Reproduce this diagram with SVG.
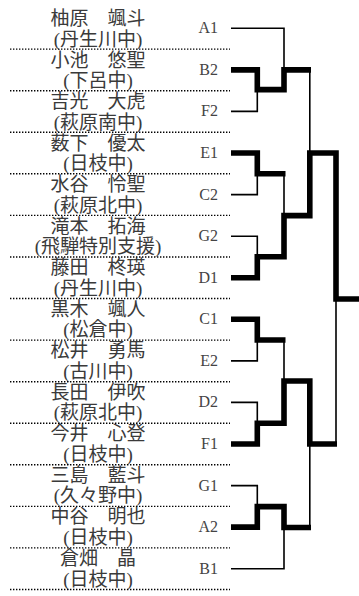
<svg xmlns="http://www.w3.org/2000/svg" width="359" height="596" viewBox="0 0 359 596">
<style>
.nm{font-family:"Liberation Serif","Noto Sans CJK JP",serif;font-size:19px;fill:#3a3a3a;text-anchor:middle}
.lb{font-family:"Liberation Serif",serif;font-size:16px;fill:#444;text-anchor:end}
.dot{stroke:#000;stroke-width:1.4;stroke-dasharray:1.4 1.6;fill:none}
.thin{stroke:#000;stroke-width:1.6;fill:none}
.thick{stroke:#000;stroke-width:5.6;fill:none;stroke-linejoin:miter}
</style>
<rect width="359" height="596" fill="#fff"/>
<g id="p0"><text class="nm" x="98" y="25">柚原　颯斗</text><text class="nm" x="98" y="45.5">(丹生川中)</text><text class="lb" x="218" y="33.3">A1</text></g>
<g id="p1"><text class="nm" x="98" y="66.5">小池　悠聖</text><text class="nm" x="98" y="87">(下呂中)</text><text class="lb" x="218" y="74.9">B2</text></g>
<g id="p2"><text class="nm" x="98" y="108">吉光　大虎</text><text class="nm" x="98" y="128.5">(萩原南中)</text><text class="lb" x="218" y="116.4">F2</text></g>
<g id="p3"><text class="nm" x="98" y="149.5">薮下　優太</text><text class="nm" x="98" y="170">(日枝中)</text><text class="lb" x="218" y="158">E1</text></g>
<g id="p4"><text class="nm" x="98" y="191">水谷　怜聖</text><text class="nm" x="98" y="211.5">(萩原北中)</text><text class="lb" x="218" y="199.6">C2</text></g>
<g id="p5"><text class="nm" x="98" y="232.5">滝本　拓海</text><text class="nm" x="98" y="253">(飛騨特別支援)</text><text class="lb" x="218" y="241.2">G2</text></g>
<g id="p6"><text class="nm" x="98" y="274">藤田　柊瑛</text><text class="nm" x="98" y="294.5">(丹生川中)</text><text class="lb" x="218" y="282.7">D1</text></g>
<g id="p7"><text class="nm" x="98" y="315.5">黒木　颯人</text><text class="nm" x="98" y="336">(松倉中)</text><text class="lb" x="218" y="324.3">C1</text></g>
<g id="p8"><text class="nm" x="98" y="357">松井　勇馬</text><text class="nm" x="98" y="377.5">(古川中)</text><text class="lb" x="218" y="365.9">E2</text></g>
<g id="p9"><text class="nm" x="98" y="398.5">長田　伊吹</text><text class="nm" x="98" y="419">(萩原北中)</text><text class="lb" x="218" y="407.4">D2</text></g>
<g id="p10"><text class="nm" x="98" y="440">今井　心登</text><text class="nm" x="98" y="460.5">(日枝中)</text><text class="lb" x="218" y="449">F1</text></g>
<g id="p11"><text class="nm" x="98" y="481.5">三島　藍斗</text><text class="nm" x="98" y="502">(久々野中)</text><text class="lb" x="218" y="490.6">G1</text></g>
<g id="p12"><text class="nm" x="98" y="523">中谷　明也</text><text class="nm" x="98" y="543.5">(日枝中)</text><text class="lb" x="218" y="532.1">A2</text></g>
<g id="p13"><text class="nm" x="98" y="565">倉畑　晶</text><text class="nm" x="98" y="585.5">(日枝中)</text><text class="lb" x="218" y="573.7">B1</text></g>
<g id="separators">
<path class="dot" d="M10,49.1H230M10,90.7H230M10,132.2H230M10,173.8H230M10,215.4H230M10,257H230M10,298.5H230M10,340.1H230M10,381.7H230M10,423.2H230M10,464.8H230M10,506.4H230M10,547.9H230M10,589.5H230"/>
</g>
<g id="connectors">
<path class="thin" d="M231,28.3H284V70M231,111.4H257.3V89.6M309.8,70V153M231,194.6H257.3V173.8M284,173.8V215.6M231,236.2H257.3V256.8M336,299V444M231,360.9H257.3V340M284,340V381M231,402.4H257.3V423.2M309.8,444V527.5M231,485.6H257.3V506.6M231,568.7H284V527.5"/>
<path class="thick" d="M231,69.9H257.3V89.6H284V69.9H311"/>
<path class="thick" d="M231,153H257.3V173.8H285.5"/>
<path class="thick" d="M231,277.7H257.3V256.8H284V215.6H309.8V153H336V299H359"/>
<path class="thick" d="M231,319.3H257.3V340H285.5"/>
<path class="thick" d="M231,444H257.3V423.2H284V381H309.8V444H337"/>
<path class="thick" d="M231,527.1H257.3V506.6H284V527.5H311"/>
</g>
</svg>
